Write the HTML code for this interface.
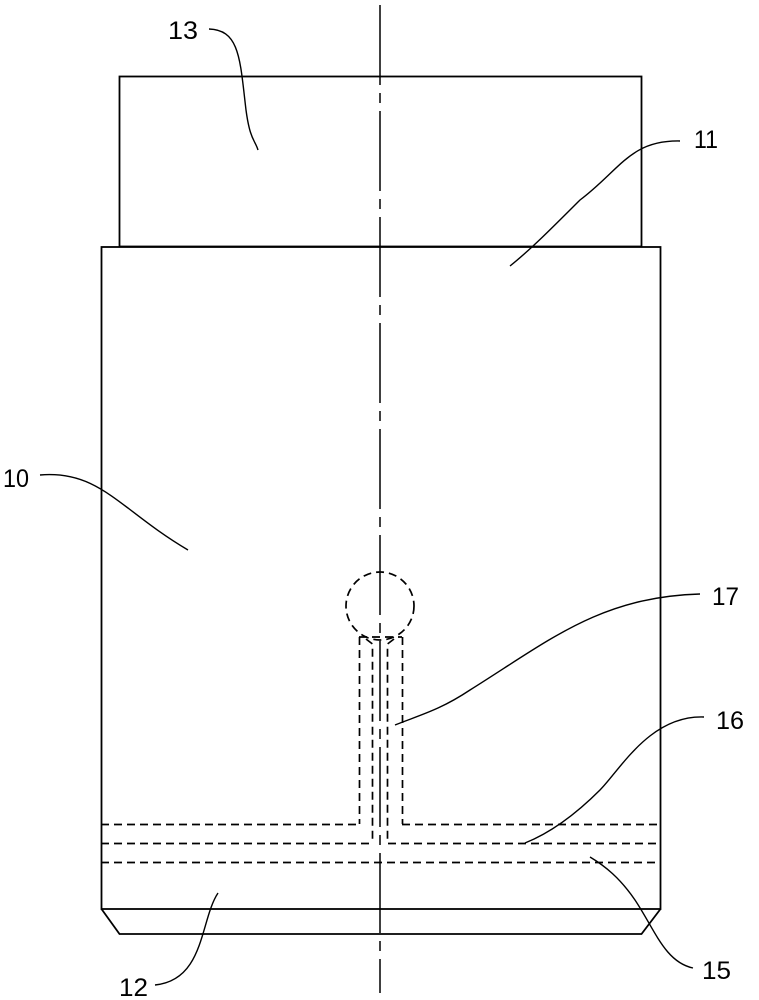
<!DOCTYPE html>
<html><head><meta charset="utf-8"><style>html,body{margin:0;padding:0;background:#fff}svg{display:block}</style></head>
<body>
<svg width="759" height="1000" viewBox="0 0 759 1000" xmlns="http://www.w3.org/2000/svg">
<g fill="none" stroke="#000" stroke-width="1.8">
<rect x="119.5" y="76.5" width="522" height="170"/>
<rect x="101.5" y="247" width="559" height="662"/>
<polyline points="101.5,909 119.5,934 641.5,934 660.5,909"/>
</g>
<line x1="380" y1="5" x2="380" y2="993" stroke="#000" stroke-width="1.5" stroke-dasharray="80 8 10 8"/>
<g fill="none" stroke="#000" stroke-width="1.7" stroke-dasharray="8 5">
<circle cx="380" cy="606" r="34"/>
<line x1="101" y1="824.5" x2="359" y2="824.5"/>
<line x1="402" y1="824.5" x2="660" y2="824.5"/>
<line x1="101" y1="843.5" x2="372" y2="843.5"/>
<line x1="388" y1="843.5" x2="660" y2="843.5"/>
<line x1="101" y1="862.5" x2="660" y2="862.5"/>
<line x1="359" y1="637" x2="402" y2="637"/>
<line x1="359.5" y1="637" x2="359.5" y2="824"/>
<line x1="402.5" y1="637" x2="402.5" y2="824"/>
<polyline points="366,639 372.5,644 372.5,843"/>
<polyline points="394,639 387.5,644 387.5,843"/>
</g>
<g fill="none" stroke="#000" stroke-width="1.4">
<path d="M209,29 C240,30 240,60 246,110 C250,140 255,140 258,150"/>
<path d="M680,141 C630,140 620,170 580,200 C550,230 530,250 510,266"/>
<path d="M40,475 C100,470 120,510 188,550"/>
<path d="M700,594 C600,597 550,640 470,690 C440,710 420,715 395,725"/>
<path d="M704,717 C650,715 620,770 600,790 C570,820 545,835 525,843"/>
<path d="M693,968 C665,962 655,930 635,900 C620,878 605,866 590,857"/>
<path d="M155,985 C205,980 200,920 218,893"/>
</g>
<g font-family="'Liberation Sans', sans-serif" font-size="25" fill="#000">
<text x="168" y="39" textLength="30" lengthAdjust="spacingAndGlyphs">13</text>
<text x="694" y="148" textLength="24" lengthAdjust="spacingAndGlyphs">11</text>
<text x="3" y="487" textLength="26" lengthAdjust="spacingAndGlyphs">10</text>
<text x="712" y="605" textLength="27" lengthAdjust="spacingAndGlyphs">17</text>
<text x="716" y="729" textLength="28" lengthAdjust="spacingAndGlyphs">16</text>
<text x="702" y="979" textLength="29" lengthAdjust="spacingAndGlyphs">15</text>
<text x="119" y="996" textLength="29" lengthAdjust="spacingAndGlyphs">12</text>
</g>
</svg>
</body></html>
